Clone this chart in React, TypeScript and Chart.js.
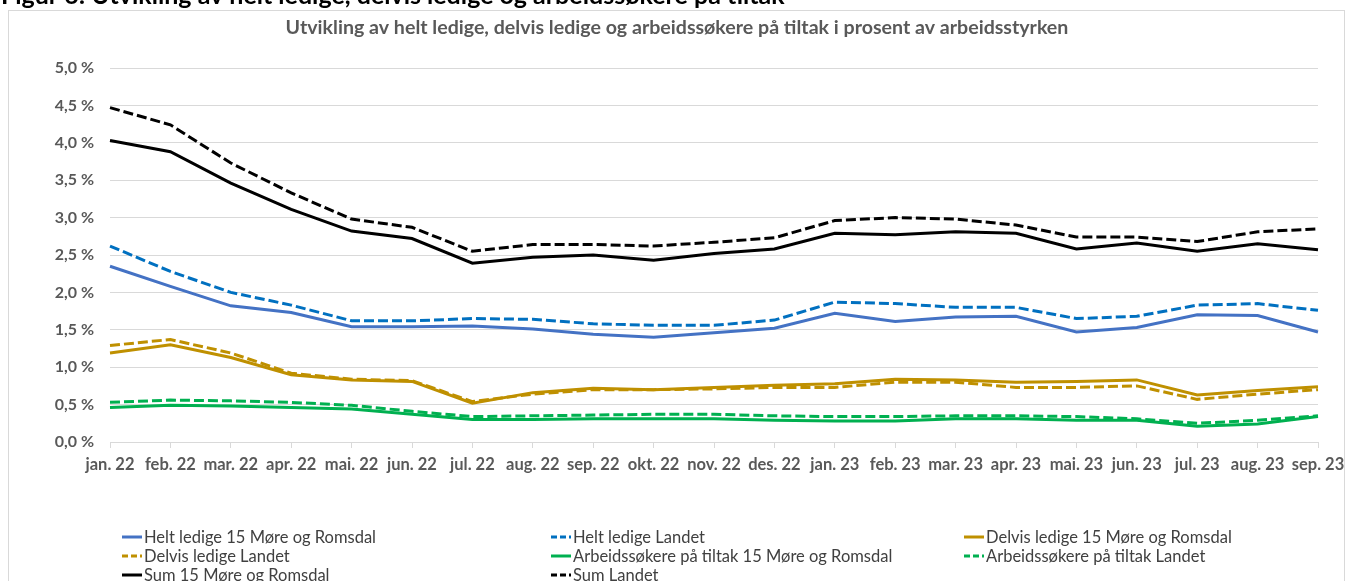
import React, { useEffect, useRef } from "react";
import { Chart, registerables } from "chart.js";

Chart.register(...registerables);

const months = [
  "jan. 22", "feb. 22", "mar. 22", "apr. 22", "mai. 22", "jun. 22", "jul. 22",
  "aug. 22", "sep. 22", "okt. 22", "nov. 22", "des. 22", "jan. 23", "feb. 23",
  "mar. 23", "apr. 23", "mai. 23", "jun. 23", "jul. 23", "aug. 23", "sep. 23",
];

const heltMR = [2.35, 2.08, 1.82, 1.73, 1.54, 1.54, 1.55, 1.51, 1.44, 1.40, 1.46, 1.52, 1.72, 1.61, 1.67, 1.68, 1.47, 1.53, 1.70, 1.69, 1.47];
const heltLandet = [2.62, 2.28, 2.00, 1.83, 1.62, 1.62, 1.65, 1.64, 1.58, 1.56, 1.56, 1.63, 1.87, 1.85, 1.80, 1.80, 1.65, 1.68, 1.83, 1.85, 1.76];
const delvisMR = [1.19, 1.30, 1.13, 0.90, 0.83, 0.81, 0.52, 0.66, 0.72, 0.70, 0.73, 0.76, 0.78, 0.84, 0.83, 0.80, 0.81, 0.83, 0.63, 0.69, 0.74];
const delvisLandet = [1.29, 1.37, 1.19, 0.92, 0.84, 0.82, 0.54, 0.64, 0.70, 0.70, 0.71, 0.73, 0.73, 0.80, 0.80, 0.73, 0.73, 0.75, 0.57, 0.64, 0.70];
const tiltakMR = [0.46, 0.49, 0.48, 0.46, 0.44, 0.37, 0.30, 0.30, 0.31, 0.31, 0.31, 0.29, 0.28, 0.28, 0.31, 0.31, 0.29, 0.29, 0.21, 0.24, 0.34];
const tiltakLandet = [0.53, 0.56, 0.55, 0.53, 0.49, 0.41, 0.34, 0.35, 0.36, 0.37, 0.37, 0.35, 0.34, 0.34, 0.35, 0.35, 0.34, 0.31, 0.25, 0.29, 0.35];
const sumMR = [4.03, 3.88, 3.46, 3.11, 2.82, 2.72, 2.39, 2.47, 2.50, 2.43, 2.52, 2.58, 2.79, 2.77, 2.81, 2.79, 2.58, 2.66, 2.55, 2.65, 2.57];
const sumLandet = [4.47, 4.24, 3.73, 3.33, 2.98, 2.87, 2.55, 2.64, 2.64, 2.62, 2.67, 2.73, 2.96, 3.00, 2.98, 2.90, 2.74, 2.74, 2.68, 2.81, 2.85];

const seriesNames = [
  "Helt ledige 15 Møre og Romsdal",
  "Helt ledige Landet",
  "Delvis ledige 15 Møre og Romsdal",
  "Delvis ledige Landet",
  "Arbeidssøkere på tiltak 15 Møre og Romsdal",
  "Arbeidssøkere på tiltak Landet",
  "Sum 15 Møre og Romsdal",
  "Sum Landet",
];
const seriesValues = [heltMR, heltLandet, delvisMR, delvisLandet, tiltakMR, tiltakLandet, sumMR, sumLandet];
const seriesColors = ["#4472C4", "#0070C0", "#BF9000", "#BF9000", "#00B050", "#00B050", "#000000", "#000000"];
const seriesDashed = [false, true, false, true, false, true, false, true];

const yTicks = [0, 0.5, 1, 1.5, 2, 2.5, 3, 3.5, 4, 4.5, 5];

const chartTitle = "Utvikling av helt ledige, delvis ledige og arbeidssøkere på tiltak i prosent av arbeidsstyrken";
const figureHeader = "Figur 6: Utvikling av helt ledige, delvis ledige og arbeidssøkere på tiltak";

const DASH = [10, 4];
const FONT = "Lato, 'Open Sans', sans-serif";

const decorPlugin = {
  id: "decor",
  beforeDraw(chart: any) {
    const ctx = chart.ctx;
    ctx.save();
    ctx.fillStyle = "#ffffff";
    ctx.fillRect(0, 0, chart.width, chart.height);
    ctx.strokeStyle = "#D9D9D9";
    ctx.lineWidth = 1;
    ctx.strokeRect(8.5, 10.5, 1336, 620);
    ctx.restore();
  },
  afterDraw(chart: any) {
    const ctx = chart.ctx;
    ctx.save();
    // figure header (cut off at top)
    ctx.fillStyle = "#000000";
    ctx.font = `bold 25px ${FONT}`;
    ctx.textAlign = "left";
    ctx.textBaseline = "alphabetic";
    ctx.fillText(figureHeader, 1, 4);
    // chart title
    ctx.fillStyle = "#595959";
    ctx.font = `bold 19.6px ${FONT}`;
    ctx.textAlign = "center";
    ctx.textBaseline = "middle";
    ctx.fillText(chartTitle, 677, 28);
    // legend grid
    const cols = [122, 551, 964];
    const rows = [537, 556, 575];
    ctx.font = `16.5px ${FONT}`;
    ctx.textAlign = "left";
    chart.data.datasets.forEach((ds: any, i: number) => {
      const x = cols[i % 3];
      const y = rows[Math.floor(i / 3)];
      ctx.strokeStyle = ds.borderColor;
      ctx.lineWidth = 3;
      ctx.setLineDash(ds.borderDash && ds.borderDash.length ? [6, 3] : []);
      ctx.beginPath();
      ctx.moveTo(x, y);
      ctx.lineTo(x + 20, y);
      ctx.stroke();
      ctx.setLineDash([]);
      ctx.fillStyle = "#404040";
      ctx.fillText(ds.label, x + 22, y + 1);
    });
    ctx.restore();
  },
};

export default function App() {
  const ref = useRef<HTMLCanvasElement | null>(null);

  useEffect(() => {
    if (!ref.current) return;
    const datasets = seriesNames.map((name, i) => ({
      label: name,
      data: seriesValues[i],
      borderColor: seriesColors[i],
      backgroundColor: seriesColors[i],
      borderWidth: 3,
      borderDash: seriesDashed[i] ? DASH : [],
      pointRadius: 0,
      tension: 0,
      fill: false,
      order: seriesNames.length - i,
    }));
    const chart = new Chart(ref.current, {
      type: "line",
      data: { labels: months, datasets },
      options: {
        responsive: false,
        animation: false,
        maintainAspectRatio: false,
        layout: { padding: { top: 68, left: 0, right: 28, bottom: 99 } },
        plugins: {
          legend: { display: false },
          tooltip: { enabled: false },
          title: { display: false },
        },
        scales: {
          x: {
            offset: false,
            grid: {
              drawOnChartArea: false,
              drawTicks: true,
              tickLength: 6,
              color: "#D9D9D9",
            },
            border: { display: true, color: "#D9D9D9" },
            ticks: {
              color: "#595959",
              font: { family: FONT, size: 16.5, weight: "bold" },
              padding: 7,
              maxRotation: 0,
              autoSkip: false,
            },
            afterFit: (s: any) => {
              s.height = 40;
              s.paddingRight = 0;
              s.paddingLeft = 0;
            },
          },
          y: {
            min: 0,
            max: 5,
            afterBuildTicks: (s: any) => {
              s.ticks = yTicks.map((v) => ({ value: v }));
            },
            grid: { color: "#D9D9D9", drawTicks: false },
            border: { display: false },
            ticks: {
              color: "#595959",
              font: { family: FONT, size: 16, weight: "bold" },
              padding: 16,
              callback: (v: any) => Number(v).toFixed(1).replace(".", ",") + " %",
            },
            afterFit: (s: any) => {
              s.width = 110;
            },
          },
        },
      },
      plugins: [decorPlugin],
    });
    return () => chart.destroy();
  }, []);

  return (
    <div style={{ position: "fixed", left: 0, top: 0, width: 1346, height: 581, overflow: "hidden", background: "#fff" }}>
      <canvas ref={ref} width={1346} height={581} style={{ display: "block" }} />
    </div>
  );
}
